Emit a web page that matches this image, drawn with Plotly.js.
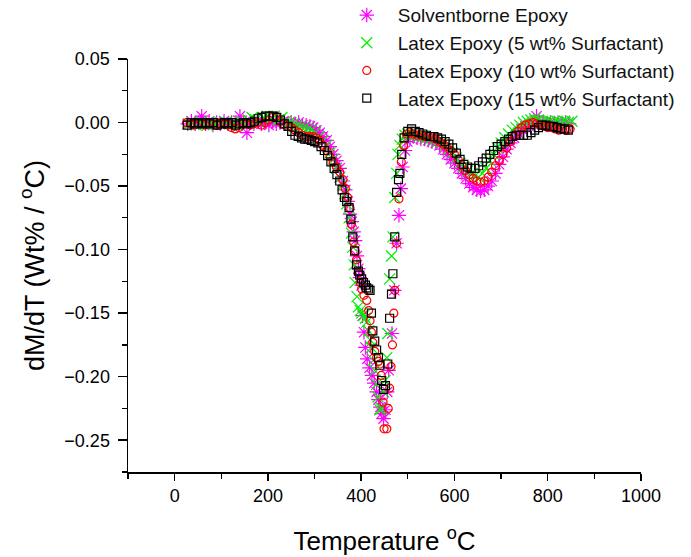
<!DOCTYPE html>
<html>
<head>
<meta charset="utf-8">
<script src="https://cdn.plot.ly/plotly-3.0.1.min.js"></script>
<style>html,body{margin:0;padding:0;background:#fff;}#chart{width:691px;height:557px;}</style>
</head>
<body>
<div id="chart"></div>
<script>
// Series names
const seriesNames = [
  "Solventborne Epoxy",
  "Latex Epoxy (5 wt% Surfactant)",
  "Latex Epoxy (10 wt% Surfactant)",
  "Latex Epoxy (15 wt% Surfactant)"
];

// Solventborne Epoxy (magenta)
const tSolvent = [
  28,36,44,52,58,66,74,82,90,98,
  106,114,122,130,140,148,155,162,170,178,
  186,194,202,210,218,226,234,242,250,258,
  266,274,282,290,297,304,311,318,326,333,
  340,347,354,361,366,371,376,380,384,387,
  391,394,397,401,403,406,409,413,418,423,
  428,433,437,441,444,448,452,456,459,466,
  471,476,481,485,489,494,499,505,512,520,
  528,536,544,552,560,568,576,584,592,600,
  608,616,624,632,640,648,656,664,672,680,
  688,696,704,712,720,728,736,744,752,760,
  768,776,782,790,798,806,814,822,830,838,
  846
];
const vSolvent = [
  -0.001,0.001,-0.001,0.000,0.005,-0.001,0.001,-0.002,0.000,-0.001,
  0.001,-0.001,0.000,-0.001,0.005,0.000,-0.008,0.000,-0.001,0.001,
  -0.001,0.000,-0.002,0.001,-0.001,0.000,0.001,-0.001,0.000,-0.001,
  0.000,-0.002,-0.002,-0.003,-0.004,-0.006,-0.008,-0.011,-0.014,-0.019,
  -0.025,-0.030,-0.036,-0.046,-0.053,-0.062,-0.072,-0.078,-0.086,-0.093,
  -0.105,-0.115,-0.122,-0.128,-0.152,-0.165,-0.177,-0.186,-0.193,-0.199,
  -0.205,-0.212,-0.218,-0.224,-0.229,-0.233,-0.226,-0.212,-0.195,-0.166,
  -0.132,-0.095,-0.073,-0.052,-0.035,-0.022,-0.015,-0.012,-0.011,-0.012,
  -0.013,-0.013,-0.014,-0.015,-0.016,-0.018,-0.021,-0.025,-0.029,-0.032,
  -0.036,-0.040,-0.044,-0.048,-0.051,-0.053,-0.054,-0.053,-0.050,-0.046,
  -0.040,-0.033,-0.027,-0.021,-0.016,-0.012,-0.008,-0.005,-0.003,-0.002,
  -0.001,0.005,0.000,0.000,-0.001,0.000,-0.001,0.000,-0.001,0.000,
  -0.001
];

// Latex Epoxy 5 wt% (green)
const t5 = [
  30,38,46,54,62,70,78,86,94,102,
  110,118,126,134,142,150,158,166,174,182,
  190,198,206,214,222,230,238,246,254,262,
  270,278,286,294,302,310,318,326,333,340,
  347,354,360,365,369,374,379,382,385,387,
  391,394,398,401,405,409,412,416,419,422,
  426,429,433,436,440,444,448,451,455,457,
  461,465,468,472,476,479,483,488,494,500,
  508,516,524,532,540,548,556,564,572,580,
  588,596,604,612,620,628,636,644,652,660,
  668,676,684,692,700,708,716,724,732,740,
  748,756,764,772,780,788,796,804,812,820,
  828,836,844,852
];
const v5 = [
  -0.001,0.000,-0.002,0.000,-0.001,-0.002,0.000,-0.001,0.000,-0.001,
  0.000,-0.001,0.000,-0.002,0.000,-0.001,0.002,0.004,0.002,0.000,
  0.004,0.005,0.003,0.005,0.002,0.004,0.001,0.000,-0.001,-0.002,
  -0.003,-0.004,-0.005,-0.006,-0.008,-0.011,-0.014,-0.018,-0.024,-0.029,
  -0.036,-0.043,-0.049,-0.056,-0.064,-0.075,-0.087,-0.098,-0.112,-0.126,
  -0.137,-0.145,-0.148,-0.150,-0.152,-0.154,-0.157,-0.164,-0.171,-0.177,
  -0.187,-0.195,-0.206,-0.216,-0.226,-0.225,-0.212,-0.203,-0.185,-0.166,
  -0.123,-0.105,-0.090,-0.059,-0.040,-0.025,-0.018,-0.013,-0.010,-0.009,
  -0.009,-0.010,-0.011,-0.011,-0.012,-0.013,-0.014,-0.015,-0.016,-0.018,
  -0.021,-0.024,-0.028,-0.032,-0.035,-0.038,-0.040,-0.042,-0.043,-0.040,
  -0.036,-0.030,-0.025,-0.020,-0.016,-0.012,-0.009,-0.006,-0.004,-0.002,
  0.000,0.001,0.002,0.003,0.002,0.001,0.001,0.001,0.000,0.001,
  0.000,0.001,0.000,0.001
];

// Latex Epoxy 10 wt% (red)
const t10 = [
  26,34,42,50,58,66,74,82,90,98,
  106,114,122,130,138,146,154,162,170,178,
  186,194,202,210,218,226,234,242,250,258,
  266,274,282,290,297,304,311,318,326,333,
  340,347,354,361,366,371,376,379,384,387,
  390,394,398,401,406,412,416,419,422,425,
  429,433,437,440,443,447,449,455,458,461,
  464,467,470,472,476,481,486,491,497,504,
  512,520,528,536,544,552,560,568,576,584,
  592,600,608,616,624,632,640,648,656,664,
  672,680,688,696,704,712,720,728,736,744,
  752,760,768,776,784,792,800,808,816,824,
  832,840,848
];
const v10 = [
  0.000,-0.001,-0.002,0.000,-0.001,-0.002,0.000,-0.001,-0.002,0.000,
  -0.001,-0.002,-0.004,-0.005,-0.004,-0.001,0.000,-0.002,-0.001,0.000,
  -0.002,0.000,0.002,0.004,0.005,0.001,-0.001,-0.003,-0.004,-0.006,
  -0.008,-0.010,-0.011,-0.011,-0.011,-0.012,-0.014,-0.018,-0.022,-0.027,
  -0.031,-0.035,-0.039,-0.045,-0.052,-0.059,-0.067,-0.080,-0.094,-0.101,
  -0.108,-0.118,-0.126,-0.131,-0.136,-0.140,-0.148,-0.156,-0.165,-0.173,
  -0.180,-0.185,-0.188,-0.190,-0.199,-0.220,-0.241,-0.241,-0.225,-0.209,
  -0.192,-0.175,-0.150,-0.132,-0.095,-0.060,-0.031,-0.018,-0.009,-0.008,
  -0.009,-0.010,-0.010,-0.011,-0.011,-0.012,-0.013,-0.015,-0.017,-0.019,
  -0.022,-0.025,-0.029,-0.034,-0.038,-0.041,-0.044,-0.046,-0.047,-0.046,
  -0.043,-0.039,-0.034,-0.030,-0.025,-0.020,-0.015,-0.011,-0.007,-0.004,
  -0.002,-0.001,0.000,-0.001,-0.002,-0.003,-0.004,-0.004,-0.005,-0.006,
  -0.005,-0.006,-0.005
];

// Latex Epoxy 15 wt% (black)
const t15 = [
  27,35,43,51,59,67,75,83,91,99,
  107,115,123,131,139,147,155,163,171,179,
  187,195,203,211,219,227,235,243,251,258,
  265,272,279,286,293,300,307,314,321,328,
  335,342,348,354,359,364,369,374,378,382,
  386,390,394,397,401,405,409,412,416,419,
  422,425,429,433,437,440,444,448,452,457,
  461,465,468,472,476,480,483,487,492,500,
  508,516,524,532,540,548,556,564,572,580,
  588,596,604,612,620,628,636,644,652,660,
  668,676,684,692,700,708,716,724,732,740,
  748,756,764,772,780,788,796,804,812,820,
  828,836,844
];
const v15 = [
  -0.002,0.000,-0.001,0.000,-0.001,0.000,-0.001,0.000,-0.002,-0.001,
  0.000,-0.001,0.000,-0.002,-0.001,0.000,-0.001,0.000,0.001,0.003,
  0.004,0.005,0.005,0.005,0.004,0.002,-0.001,-0.003,-0.007,-0.010,
  -0.011,-0.012,-0.013,-0.013,-0.014,-0.015,-0.016,-0.019,-0.022,-0.026,
  -0.031,-0.036,-0.041,-0.046,-0.053,-0.059,-0.062,-0.067,-0.076,-0.090,
  -0.101,-0.112,-0.117,-0.120,-0.123,-0.126,-0.128,-0.130,-0.131,-0.132,
  -0.150,-0.164,-0.172,-0.179,-0.185,-0.191,-0.203,-0.210,-0.207,-0.190,
  -0.154,-0.135,-0.119,-0.090,-0.055,-0.045,-0.040,-0.025,-0.012,-0.007,
  -0.005,-0.007,-0.008,-0.009,-0.010,-0.011,-0.011,-0.012,-0.013,-0.015,
  -0.017,-0.020,-0.024,-0.029,-0.033,-0.035,-0.036,-0.036,-0.034,-0.031,
  -0.028,-0.025,-0.022,-0.019,-0.017,-0.015,-0.013,-0.011,-0.010,-0.010,
  -0.010,-0.010,-0.008,-0.006,-0.004,-0.002,-0.002,-0.003,-0.003,-0.004,
  -0.005,-0.005,-0.006
];

const xTitle = "Temperature <sup>o</sup>C";
const yTitle = "dM/dT (Wt% / <sup>o</sup>C)";

const FONT = "Liberation Sans, Arial, sans-serif";

function mk(name, xs, ys, symbol, size, color, rank) {
  return {
    type: "scatter", mode: "markers", name: name, x: xs, y: ys,
    legendrank: rank,
    marker: {symbol: symbol, size: size, color: color,
             line: {color: color, width: 1.2}}
  };
}

const traces = [
  mk(seriesNames[0], tSolvent, vSolvent, "asterisk-open", 12, "#FF00FF", 1),
  mk(seriesNames[1], t5, v5, "x-thin-open", 11, "#00EE00", 2),
  mk(seriesNames[2], t10, v10, "circle-open", 8, "#FF0000", 3),
  mk(seriesNames[3], t15, v15, "square-open", 8, "#000000", 4)
];

const layout = {
  width: 691, height: 557,
  paper_bgcolor: "#ffffff", plot_bgcolor: "#ffffff",
  margin: {l: 128, r: 50, t: 59, b: 85, pad: 0, autoexpand: false},
  font: {family: FONT, color: "#000000", size: 18},
  showlegend: true,
  legend: {
    xref: "paper", yref: "paper",
    x: 0.405, y: 1.152, xanchor: "left", yanchor: "top",
    bgcolor: "rgba(0,0,0,0)", borderwidth: 0,
    itemwidth: 52,
    font: {family: FONT, size: 19, color: "#111111"},
    traceorder: "normal"
  },
  xaxis: {
    range: [-100, 1000], tick0: 0, dtick: 200,
    showgrid: false, zeroline: false,
    showline: true, linecolor: "#000", linewidth: 1.5,
    ticks: "outside", ticklen: 7, tickwidth: 1.5, tickcolor: "#000",
    minor: {dtick: 100, tick0: 0, ticks: "outside", ticklen: 5, tickwidth: 1.2, tickcolor: "#000", showgrid: false},
    tickfont: {family: FONT, size: 18},
    title: {text: xTitle, font: {family: FONT, size: 26}, standoff: 26}
  },
  yaxis: {
    range: [-0.275, 0.05], tick0: 0, dtick: 0.05, tickformat: ".2f",
    showgrid: false, zeroline: false,
    showline: true, linecolor: "#000", linewidth: 1.5,
    ticks: "outside", ticklen: 9, tickwidth: 1.5, tickcolor: "#000",
    minor: {dtick: 0.025, tick0: 0, ticks: "outside", ticklen: 5, tickwidth: 1.2, tickcolor: "#000", showgrid: false},
    tickfont: {family: FONT, size: 18},
    ticklabelstandoff: 4,
    title: {text: yTitle, font: {family: FONT, size: 27}, standoff: 12}
  }
};

Plotly.newPlot("chart", traces, layout, {displayModeBar: false, staticPlot: true});
</script>
</body>
</html>
